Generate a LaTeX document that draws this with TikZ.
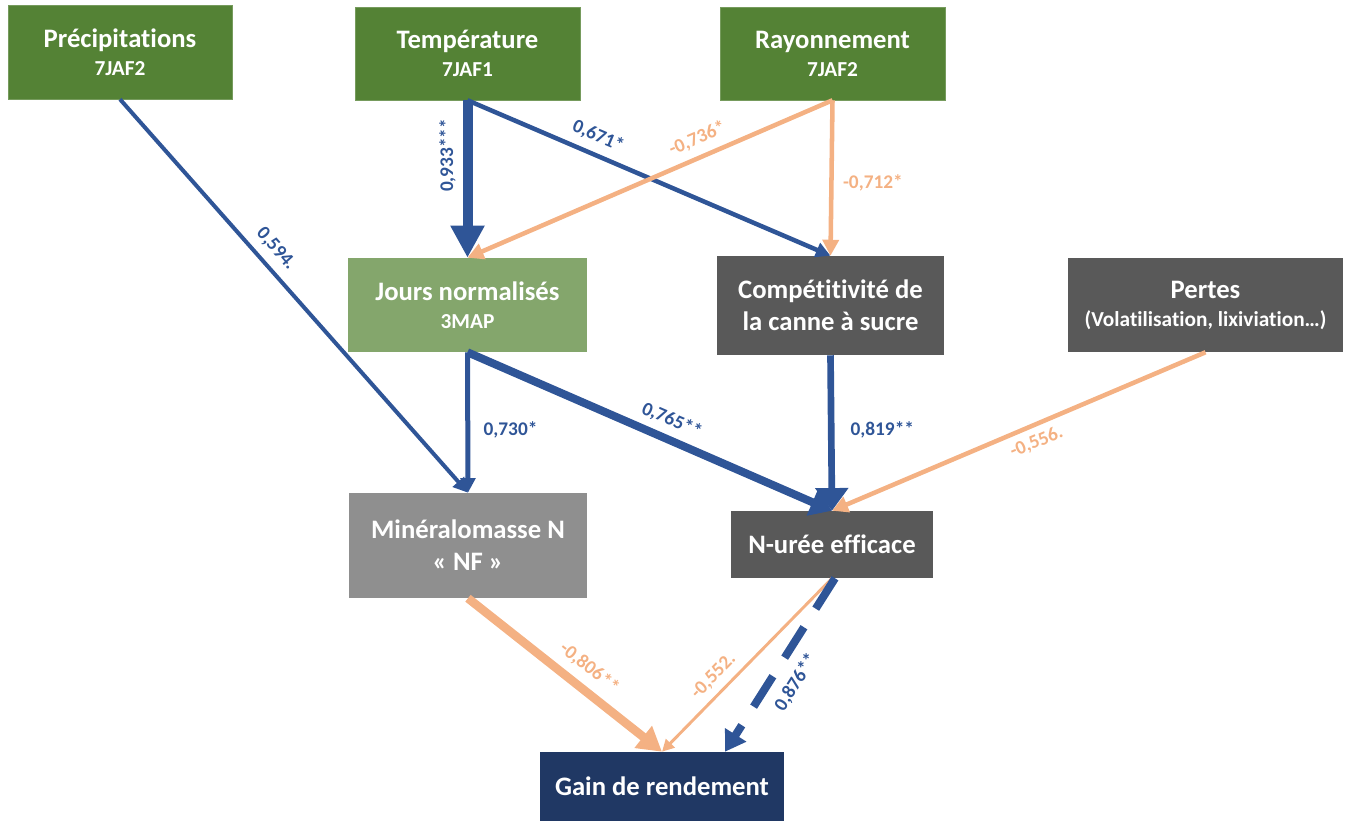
\documentclass[tikz,border=0pt]{standalone}
\usepackage{fontspec}
\setmainfont{Carlito}[Ligatures={NoCommon,NoContextual}]
\usetikzlibrary{arrows.meta,calc}
\definecolor{vert}{HTML}{548235}
\definecolor{vertclair}{HTML}{84A66C}
\definecolor{grisfonce}{HTML}{595959}
\definecolor{grismoyen}{HTML}{8F8F8F}
\definecolor{marine}{HTML}{203864}
\definecolor{bleu}{HTML}{2F5597}
\definecolor{orange}{HTML}{F4B183}
\newcommand\subf{\fontsize{16}{19}\selectfont}
\begin{document}
\begin{tikzpicture}[x=0.75pt,y=-0.75pt,
  box/.style={rectangle, inner sep=0pt, text=white, align=center,
    font=\bfseries\fontsize{20}{24}\selectfont},
  lab/.style={font=\bfseries\fontsize{14.5}{16}\selectfont, inner sep=2pt},
  labb/.style={lab, text=bleu},
  labo/.style={lab, text=orange},
  bl/.style={draw=bleu, line width=3pt, -{Triangle[width=11pt,length=11pt]}},
  ol/.style={draw=orange, line width=3.4pt, -{Triangle[width=12pt,length=12pt]}}
]
\useasboundingbox (0,0) rectangle (1345,821);

% boxes
\node[box, fill=vert, draw=vert!80!white, minimum width=224*0.75pt, minimum height=94*0.75pt] (prec) at (120,52) {Précipit\kern0pt ations\\[-3pt]{\subf 7JAF2}};
\node[box, fill=vert, draw=vert!80!white, minimum width=225*0.75pt, minimum height=93*0.75pt] (temp) at (467.5,53.5) {Température\\[-3pt]{\subf 7JAF1}};
\node[box, fill=vert, draw=vert!80!white, minimum width=225*0.75pt, minimum height=93*0.75pt] (ray) at (832.5,53.5) {Rayonnement\\[-3pt]{\subf 7JAF2}};
\node[box, fill=vertclair, minimum width=239*0.75pt, minimum height=94*0.75pt] (jours) at (467.5,305) {Jours normalisés\\[-3pt]{\subf 3MAP}};
\node[box, fill=grisfonce, minimum width=227*0.75pt, minimum height=99*0.75pt] (comp) at (830.5,305.5) {Compét\kern0pt it\kern0pt ivité de\\la canne à sucre};
\node[box, fill=grisfonce, minimum width=275*0.75pt, minimum height=94*0.75pt] (pertes) at (1205.5,305) {Pertes\\[-3pt]{\subf (Volat\kern0pt ilisat\kern0pt ion, lixiviat\kern0pt ion…)}};
\node[box, fill=grismoyen, minimum width=238*0.75pt, minimum height=105*0.75pt] (mine) at (468,545.5) {Minéralomasse N\\« NF »};
\node[box, fill=grisfonce, minimum width=202*0.75pt, minimum height=67*0.75pt] (nuree) at (832,544.5) {N-urée efficace};
\node[box, fill=marine, minimum width=244*0.75pt, minimum height=69*0.75pt] (gain) at (662,786.5) {Gain de rendement};

% connectors
\draw[bl] (prec.south) -- (mine.north)
  node[labb, pos=.41, sloped, above=4pt] {0,594.};
\draw[bl, line width=7.5pt, -{Triangle[width=24pt,length=24pt]}] (temp.south) -- (jours.north)
  node[labb, pos=.35, rotate=90, anchor=south, yshift=3pt] {0,933***};
\draw[bl, line width=3.4pt] (temp.south) -- (comp.north)
  node[labb, pos=.34, sloped, above=4pt] {0,671*};
\draw[ol] (ray.south) -- (jours.north)
  node[labo, pos=.35, sloped, above=4pt] {-0,736*};
\draw[ol] (ray.south) -- (comp.north)
  node[labo, pos=.53, right=5pt] {-0,712*};
\draw[bl, line width=3.75pt] (jours.south) -- (mine.north)
  node[labb, pos=.55, right=8pt] {0,730*};
\draw[bl, line width=6pt, -{Triangle[width=21pt,length=16pt]}] (jours.south) -- (nuree.north)
  node[labb, pos=.54, sloped, above=3pt] {0,765**};
\draw[bl, line width=5pt, -{Triangle[width=24pt,length=17pt]}] (comp.south) -- (nuree.north)
  node[labb, pos=.48, right=10pt] {0,819**};
\draw[ol] (pertes.south) -- (nuree.north)
  node[labo, pos=.47, sloped, below=3pt] {-0,556.};
\draw[ol, line width=6.5pt, -{Triangle[width=20pt,length=18pt]}] (mine.south) -- (gain.north)
  node[labo, pos=.56, sloped, above=4pt] {-0,806**};
\draw[ol, line width=2.2pt, -{Triangle[width=9pt,length=9pt]}] (nuree.south) -- (gain.north)
  node[labo, pos=.63, sloped, above=3pt] {-0,552.};
\draw[bl, line width=6pt, dash pattern=on 27pt off 16.5pt, -{Triangle[width=18pt,length=15pt]}]
  ($(nuree.south)+(3,0)$) -- ($(gain.north)+(63,0)$)
  node[labb, pos=.53, sloped, below=6pt] {0,876**};
\end{tikzpicture}
\end{document}
